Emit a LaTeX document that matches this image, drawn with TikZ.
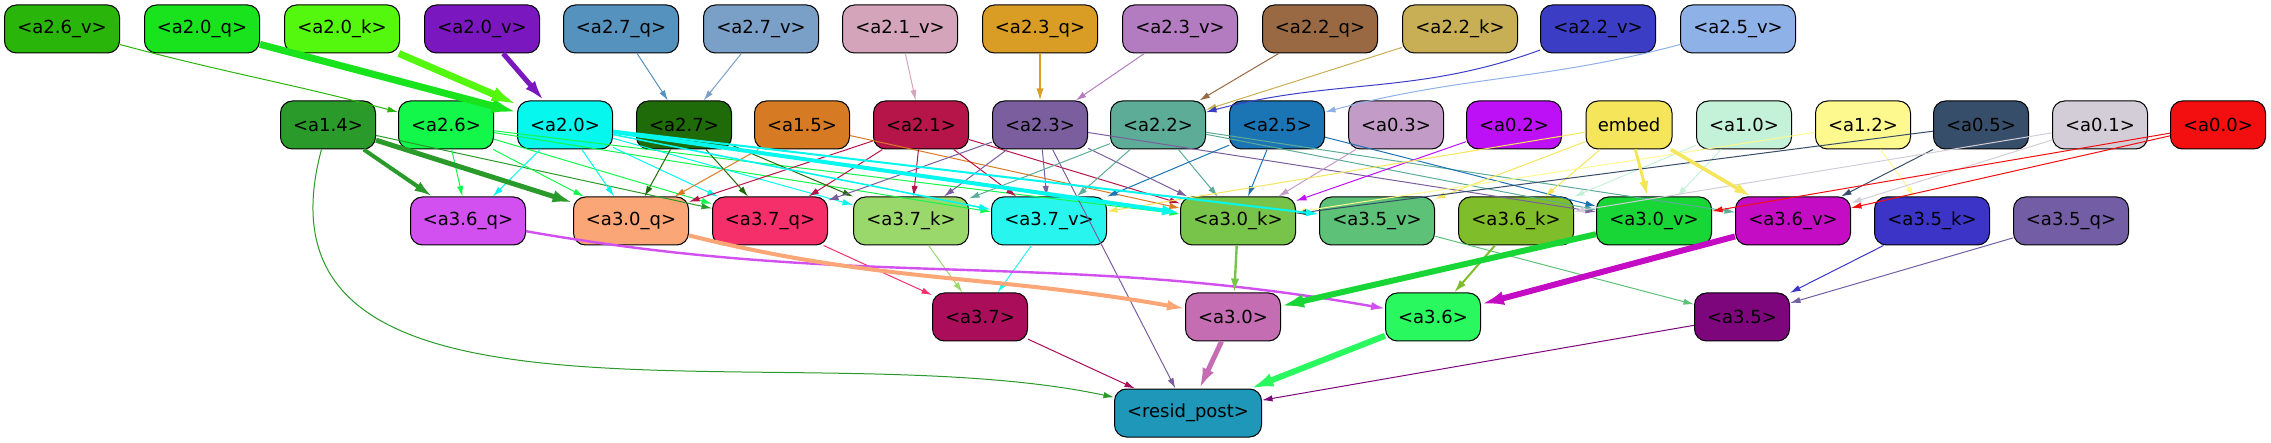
\documentclass[tikz,border=0pt]{standalone}
\usepackage{fontspec}
\setmainfont{DejaVu Sans}
\usetikzlibrary{arrows.meta,positioning}

% node colours, named after the nodes
\definecolor{ca26v}{HTML}{2AB50A}
\definecolor{ca20q}{HTML}{18E31C}
\definecolor{ca20k}{HTML}{54F80E}
\definecolor{ca20v}{HTML}{7B17BF}
\definecolor{ca27q}{HTML}{5592BD}
\definecolor{ca27v}{HTML}{7BA0C7}
\definecolor{ca21v}{HTML}{D4A5BA}
\definecolor{ca23q}{HTML}{D99C24}
\definecolor{ca23v}{HTML}{B47CC0}
\definecolor{ca22q}{HTML}{996943}
\definecolor{ca22k}{HTML}{C8AF55}
\definecolor{ca22v}{HTML}{3B3EC5}
\definecolor{ca25v}{HTML}{8EB1E8}
\definecolor{ca14}{HTML}{2A9A2A}
\definecolor{ca26}{HTML}{12F74A}
\definecolor{ca20}{HTML}{06F7EE}
\definecolor{ca27}{HTML}{1F6A09}
\definecolor{ca15}{HTML}{D77A24}
\definecolor{ca21}{HTML}{B61549}
\definecolor{ca23}{HTML}{7A5E9E}
\definecolor{ca22}{HTML}{5CAC98}
\definecolor{ca25}{HTML}{1B74B3}
\definecolor{ca03}{HTML}{C39BC7}
\definecolor{ca02}{HTML}{BE10F7}
\definecolor{cembed}{HTML}{F4E55A}
\definecolor{ca10}{HTML}{C4F2D8}
\definecolor{ca12}{HTML}{FDF98F}
\definecolor{ca05}{HTML}{374E6A}
\definecolor{ca01}{HTML}{D3CDD8}
\definecolor{ca00}{HTML}{F30F0F}
\definecolor{ca36q}{HTML}{D24FF0}
\definecolor{ca30q}{HTML}{FBA676}
\definecolor{ca37q}{HTML}{F52F69}
\definecolor{ca37k}{HTML}{9BD86C}
\definecolor{ca37v}{HTML}{29F5EF}
\definecolor{ca30k}{HTML}{78C44A}
\definecolor{ca35v}{HTML}{5DC177}
\definecolor{ca36k}{HTML}{80BD2B}
\definecolor{ca30v}{HTML}{18D636}
\definecolor{ca36v}{HTML}{C30CC4}
\definecolor{ca35k}{HTML}{3B34C6}
\definecolor{ca35q}{HTML}{735EA6}
\definecolor{ca37}{HTML}{AA0E5A}
\definecolor{ca30}{HTML}{C46DB2}
\definecolor{ca36}{HTML}{29F95E}
\definecolor{ca35}{HTML}{7E067C}
\definecolor{cresid}{HTML}{1E97B8}

\tikzset{
  basic/.style  = {draw, rectangle, rounded corners=6pt, line width=0.5pt,
                   minimum height=24pt, inner sep=0pt,
                   font=\fontsize{9}{11}\selectfont},
  wide/.style   = {basic, minimum width=57.5pt},
  narrow/.style = {basic, minimum width=47.5pt},
  e/.style      = {->, line width=0.5pt}
}

\begin{document}
\begin{tikzpicture}[x=0.5pt, y=0.5pt,
  >={Latex[length=4pt 2.5, width'=0pt 0.6]}]
\useasboundingbox (0,0) rectangle (2271,-443);

% first row, the inputs of the heads
\foreach \n/\x/\t in {a26v/62/2.6\_v, a20q/202/2.0\_q, a20k/342/2.0\_k,
    a20v/482/2.0\_v, a27q/621/2.7\_q, a27v/761/2.7\_v, a21v/900/2.1\_v,
    a23q/1040/2.3\_q, a23v/1180/2.3\_v, a22q/1320/2.2\_q, a22k/1460/2.2\_k,
    a22v/1598/2.2\_v, a25v/1738/2.5\_v}
  \node[wide, fill=c\n] (\n) at (\x,-29) {<a\t>};

% second row
\foreach \n/\x/\t in {a14/328/1.4, a26/446/2.6, a20/565/2.0, a27/684/2.7,
    a15/802/1.5, a21/921/2.1, a23/1040/2.3, a22/1158/2.2, a25/1277/2.5,
    a03/1396/0.3, a02/1514/0.2, a10/1744/1.0, a12/1863/1.2, a05/1981/0.5,
    a01/2100/0.1, a00/2218/0.0}
  \node[narrow, fill=c\n] (\n) at (\x,-125) {<a\t>};
\node[basic, minimum width=43pt, fill=cembed] (embed) at (1629,-125) {embed};

% third row
\foreach \n/\x/\t in {a36q/468/3.6\_q, a30q/631/3.0\_q, a37q/770/3.7\_q,
    a37k/911/3.7\_k, a37v/1049/3.7\_v, a30k/1238/3.0\_k, a35v/1377/3.5\_v,
    a36k/1516/3.6\_k, a30v/1654/3.0\_v, a36v/1793/3.6\_v, a35k/1932/3.5\_k,
    a35q/2071/3.5\_q}
  \node[wide, fill=c\n] (\n) at (\x,-221) {<a\t>};

% fourth row and the output
\foreach \n/\x/\t in {a37/980/3.7, a30/1233/3.0, a36/1433/3.6, a35/1742/3.5}
  \node[narrow, fill=c\n] (\n) at (\x,-317) {<a\t>};
\node[basic, minimum width=73.5pt, fill=cresid] (resid) at (1188,-413) {<resid\_post>};

% thin connectors, coloured like their source
\foreach \s/\t in {a27q/a27, a27v/a27, a21v/a21, a23v/a23, a22q/a22, a22k/a22,
    a14/a37q, a26/a36q, a26/a30q, a26/a37q, a26/a37v, a26/a30k,
    a20/a36q, a20/a30q, a20/a37q, a20/a37k, a27/a30q, a27/a37q, a27/a37k,
    a15/a30q, a15/a30k, a21/a30q, a21/a37q, a21/a37k, a21/a37v, a21/a30k,
    a23/a37q, a23/a37k, a23/a37v, a23/a30k, a23/a30v, a23/resid,
    a22/a37k, a22/a37v, a22/a30k, a22/a30v, a22/a36v,
    a25/a37v, a25/a30k, a25/a30v, a03/a30k, a02/a30k,
    embed/a37v, embed/a36k, embed/a35v, a10/a36k, a10/a30v,
    a12/a35k, a12/a30k, a05/a36v, a05/a30k, a01/a36k, a01/a36v,
    a00/a30v, a00/a36v,
    a37q/a37, a37k/a37, a37v/a37, a35v/a35, a35k/a35, a35q/a35,
    a37/resid, a35/resid}
  \draw[e, c\s] (\s) -- (\t);

% curved thin connectors
\draw[e, ca26v] (a26v) to[out=-15, in=165] (a26);
\draw[e, ca22v] (a22v) to[out=-160, in=15] (a22);
\draw[e, ca25v] (a25v) to[out=-165, in=15] (a25);
\draw[e, ca14] (a14) to[out=-105, in=168] (resid);

% heavier connectors
\draw[e, ca20q, line width=3.5pt] (a20q) -- (a20);
\draw[e, ca20k, line width=3.5pt] (a20k) -- (a20);
\draw[e, ca20v, line width=2.5pt] (a20v) -- (a20);
\draw[e, ca23q, line width=0.8pt] (a23q) -- (a23);
\draw[e, ca14, line width=2pt] (a14) -- (a36q);
\draw[e, ca14, line width=2.5pt] (a14) -- (a30q);
\draw[e, ca20, line width=0.8pt] (a20) -- (a37v);
\draw[e, ca20, line width=2pt] (a20) -- (a30k);
\draw[e, ca20, line width=1pt] (a20) -- (a35v);
\draw[e, cembed, line width=1.5pt] (embed) -- (a30v);
\draw[e, cembed, line width=1.8pt] (embed) -- (a36v);
\draw[e, ca36q, line width=1.2pt] (a36q) to[out=-10, in=170] (a36);
\draw[e, ca30q, line width=2pt] (a30q) to[out=-14, in=170] (a30);
\draw[e, ca30k, line width=1.2pt] (a30k) -- (a30);
\draw[e, ca36k, line width=1pt] (a36k) -- (a36);
\draw[e, ca30v, line width=3pt] (a30v) -- (a30);
\draw[e, ca36v, line width=3pt] (a36v) -- (a36);
\draw[e, ca30, line width=2.5pt] (a30) -- (resid);
\draw[e, ca36, line width=3pt] (a36) -- (resid);
\end{tikzpicture}
\end{document}
